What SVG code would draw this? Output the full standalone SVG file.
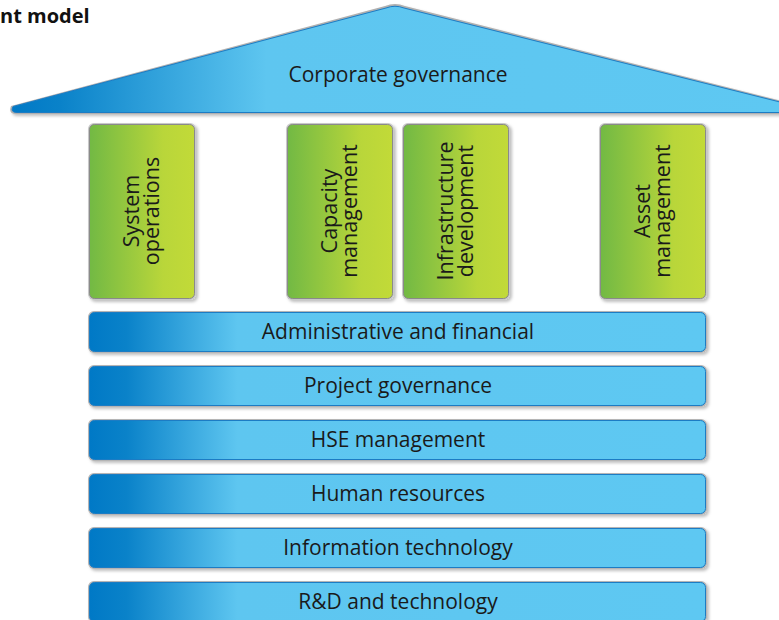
<svg xmlns="http://www.w3.org/2000/svg" width="779" height="620" viewBox="0 0 779 620">
<defs>
<linearGradient id="blueBar" x1="0" y1="0" x2="1" y2="0">
<stop offset="0" stop-color="#0079C6"/>
<stop offset="0.06" stop-color="#0A82C9"/>
<stop offset="0.24" stop-color="#5EC6F0"/>
<stop offset="1" stop-color="#5EC8F2"/>
</linearGradient>
<linearGradient id="blueRoof" x1="0" y1="0" x2="1" y2="0">
<stop offset="0" stop-color="#0079C6"/>
<stop offset="0.06" stop-color="#0A82C9"/>
<stop offset="0.32" stop-color="#5EC6F0"/>
<stop offset="1" stop-color="#5EC8F2"/>
</linearGradient>
<linearGradient id="green" x1="0" y1="0" x2="1" y2="0">
<stop offset="0" stop-color="#72B944"/>
<stop offset="0.7" stop-color="#B9D63A"/>
<stop offset="1" stop-color="#C2DA38"/>
</linearGradient>
<filter id="sh" x="-5%" y="-5%" width="112%" height="125%">
<feDropShadow dx="2" dy="2" stdDeviation="1.5" flood-color="#000" flood-opacity="0.25"/>
</filter>
</defs>
<style>
.t{font-family:"Open Sans","Noto Sans","DejaVu Sans",sans-serif;fill:#1a1a1a;font-size:21px;text-anchor:middle}
.v{font-size:21.5px}
.title{font-family:"Open Sans","Noto Sans",sans-serif;font-weight:bold;font-size:20px;fill:#111}
.bar{fill:url(#blueBar);stroke:#1C7CC4;stroke-width:1}
.barout{fill:#b5b5b5}
.pil{fill:url(#green);stroke:#8a8a8a;stroke-width:1}
.pilout{fill:#c8c8c8}
</style>
<text class="title" x="0" y="23">nt model</text>

<g id="roof">
<path d="M16,114 Q8,114 11,106 L385,6 Q395,2 405,6 L806,107 Q812,114 800,114 Z" fill="#b0b0b0" filter="url(#sh)"/>
<path d="M17,112.5 Q10,112.5 13,106.5 L386,8 Q395,4.5 404,8 L806,108.5 Q810,112.5 800,112.5 Z" fill="url(#blueRoof)" stroke="#1C7CC4" stroke-width="1"/>
<text class="t" x="398" y="82">Corporate governance</text>
</g>

<g id="system-operations">
<rect class="pilout" x="88" y="123" width="108" height="177" rx="6" filter="url(#sh)"/>
<rect class="pil" x="89.5" y="124.5" width="105" height="174" rx="5"/>
<g transform="translate(142,211) rotate(-90)"><text class="t v" x="0" y="-3">System</text><text class="t v" x="0" y="16.5">operations</text></g>
</g>

<g id="capacity-management">
<rect class="pilout" x="286" y="123" width="108" height="177" rx="6" filter="url(#sh)"/>
<rect class="pil" x="287.5" y="124.5" width="105" height="174" rx="5"/>
<g transform="translate(340,211) rotate(-90)"><text class="t v" x="0" y="-3">Capacity</text><text class="t v" x="0" y="16.5">management</text></g>
</g>

<g id="infrastructure-development">
<rect class="pilout" x="402" y="123" width="108" height="177" rx="6" filter="url(#sh)"/>
<rect class="pil" x="403.5" y="124.5" width="105" height="174" rx="5"/>
<g transform="translate(456,211) rotate(-90)"><text class="t v" x="0" y="-3">Infrastructure</text><text class="t v" x="0" y="16.5">development</text></g>
</g>

<g id="asset-management">
<rect class="pilout" x="599" y="123" width="108" height="177" rx="6" filter="url(#sh)"/>
<rect class="pil" x="600.5" y="124.5" width="105" height="174" rx="5"/>
<g transform="translate(653,211) rotate(-90)"><text class="t v" x="0" y="-3">Asset</text><text class="t v" x="0" y="16.5">management</text></g>
</g>

<g id="administrative-and-financial">
<rect class="barout" x="88" y="311" width="619" height="42" rx="6" filter="url(#sh)"/>
<rect class="bar" x="89.5" y="312.5" width="616" height="39" rx="5"/>
<text class="t" x="398" y="339">Administrative and financial</text>
</g>

<g id="project-governance">
<rect class="barout" x="88" y="365" width="619" height="42" rx="6" filter="url(#sh)"/>
<rect class="bar" x="89.5" y="366.5" width="616" height="39" rx="5"/>
<text class="t" x="398" y="393">Project governance</text>
</g>

<g id="hse-management">
<rect class="barout" x="88" y="419" width="619" height="42" rx="6" filter="url(#sh)"/>
<rect class="bar" x="89.5" y="420.5" width="616" height="39" rx="5"/>
<text class="t" x="398" y="447">HSE management</text>
</g>

<g id="human-resources">
<rect class="barout" x="88" y="473" width="619" height="42" rx="6" filter="url(#sh)"/>
<rect class="bar" x="89.5" y="474.5" width="616" height="39" rx="5"/>
<text class="t" x="398" y="501">Human resources</text>
</g>

<g id="information-technology">
<rect class="barout" x="88" y="527" width="619" height="42" rx="6" filter="url(#sh)"/>
<rect class="bar" x="89.5" y="528.5" width="616" height="39" rx="5"/>
<text class="t" x="398" y="555">Information technology</text>
</g>

<g id="rd-and-technology">
<rect class="barout" x="88" y="581" width="619" height="42" rx="6" filter="url(#sh)"/>
<rect class="bar" x="89.5" y="582.5" width="616" height="39" rx="5"/>
<text class="t" x="398" y="609">R&amp;D and technology</text>
</g>

<g id="connectors"/>
</svg>
